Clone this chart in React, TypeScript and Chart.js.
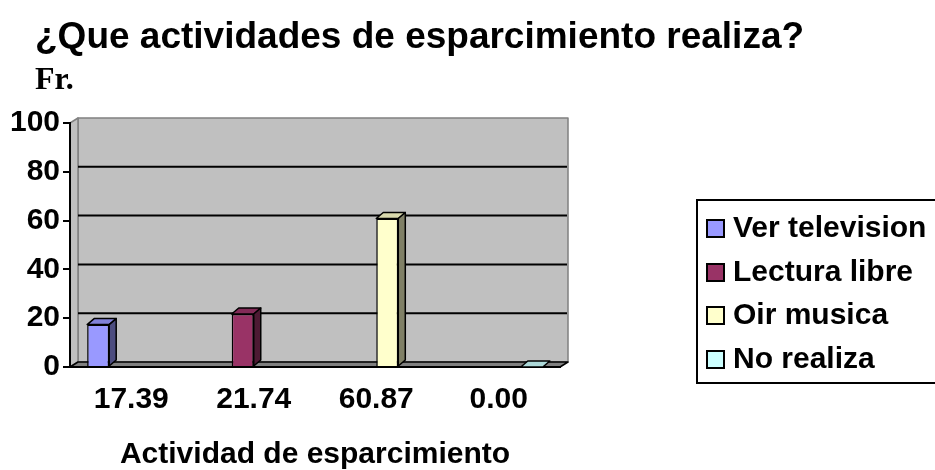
import React, { useEffect, useRef } from "react";
import { Chart, registerables } from "chart.js";

Chart.register(...registerables);

const categories = ["17.39", "21.74", "60.87", "0.00"];
const seriesNames = ["Ver television", "Lectura libre", "Oir musica", "No realiza"];
const seriesValues = [17.39, 21.74, 60.87, 0];
const seriesColors = ["#9999FF", "#993366", "#FFFFCC", "#CCFFFF"];
const yTicks = [0, 20, 40, 60, 80, 100];
const chartTitle = "¿Que actividades de esparcimiento realiza?";
const yLabel = "Fr.";
const xLabel = "Actividad de esparcimiento";

const SANS = '"Liberation Sans", Arial, sans-serif';
const SERIF = '"Liberation Serif", "Times New Roman", serif';

const DX = 8;
const DY = -5;
const BDX = 7;
const BDY = -6;

function shade(hex: string, f: number): string {
  const n = parseInt(hex.slice(1), 16);
  const r = Math.round(((n >> 16) & 255) * f);
  const g = Math.round(((n >> 8) & 255) * f);
  const b = Math.round((n & 255) * f);
  return `rgb(${r},${g},${b})`;
}

function poly(ctx: CanvasRenderingContext2D, pts: number[][], fill?: string, stroke?: string, lw = 1.5) {
  ctx.beginPath();
  ctx.moveTo(pts[0][0], pts[0][1]);
  for (let i = 1; i < pts.length; i++) ctx.lineTo(pts[i][0], pts[i][1]);
  ctx.closePath();
  if (fill) {
    ctx.fillStyle = fill;
    ctx.fill();
  }
  if (stroke) {
    ctx.strokeStyle = stroke;
    ctx.lineWidth = lw;
    ctx.lineJoin = "round";
    ctx.stroke();
  }
}

const wallsPlugin = {
  id: "walls3d",
  beforeDraw(chart: any) {
    const { ctx, chartArea: a, scales } = chart;
    const ys = scales.y;
    ctx.save();
    ctx.fillStyle = "#ffffff";
    ctx.fillRect(0, 0, chart.width, chart.height);
    // back wall
    poly(ctx, [
      [a.left + DX, a.top + DY],
      [a.right + DX, a.top + DY],
      [a.right + DX, a.bottom + DY],
      [a.left + DX, a.bottom + DY],
    ], "#C0C0C0", "#808080", 1.5);
    // left side wall
    poly(ctx, [
      [a.left, a.top],
      [a.left + DX, a.top + DY],
      [a.left + DX, a.bottom + DY],
      [a.left, a.bottom],
    ], "#C0C0C0", "#808080", 1.5);
    // floor
    poly(ctx, [
      [a.left, a.bottom],
      [a.left + DX, a.bottom + DY],
      [a.right + DX, a.bottom + DY],
      [a.right, a.bottom],
    ], "#808080", "#000000", 1.5);
    // gridlines on back wall
    ctx.strokeStyle = "#000000";
    ctx.lineWidth = 2;
    yTicks.forEach((v) => {
      if (v === 0 || v === 100) return;
      const py = ys.getPixelForValue(v) + DY;
      ctx.beginPath();
      ctx.moveTo(a.left + DX, py);
      ctx.lineTo(a.right + DX - 1, py);
      ctx.stroke();
    });
    ctx.restore();
  },
};

const bars3dPlugin = {
  id: "bars3d",
  afterDatasetsDraw(chart: any) {
    const { ctx } = chart;
    ctx.save();
    chart.data.datasets.forEach((ds: any, di: number) => {
      const meta = chart.getDatasetMeta(di);
      const col = seriesColors[di];
      meta.data.forEach((el: any, i: number) => {
        const v = ds.data[i];
        if (v == null) return;
        const { x, y, base, width } = el.getProps(["x", "y", "base", "width"], true);
        const l = x - width / 2;
        const r = x + width / 2;
        poly(ctx, [
          [l, y],
          [l + BDX, y + BDY],
          [r + BDX, y + BDY],
          [r, y],
        ], shade(col, 0.85), "#000000", 1.5);
        if (base - y > 0.5) {
          poly(ctx, [
            [r, y],
            [r + BDX, y + BDY],
            [r + BDX, base + BDY],
            [r, base],
          ], shade(col, 0.5), "#000000", 1.5);
        }
      });
    });
    ctx.restore();
  },
};

const textPlugin = {
  id: "texts",
  afterDraw(chart: any) {
    const { ctx } = chart;
    ctx.save();
    ctx.fillStyle = "#000000";
    ctx.textBaseline = "middle";
    ctx.textAlign = "left";
    ctx.font = `bold 37px ${SANS}`;
    ctx.fillText(chartTitle, 35, 38);
    ctx.font = `bold 32px ${SERIF}`;
    ctx.fillText(yLabel, 35, 81);

    // legend
    const lx = 697;
    const ly = 200;
    const lw = 260;
    const lh = 183;
    ctx.fillStyle = "#ffffff";
    ctx.fillRect(lx, ly, lw, lh);
    ctx.strokeStyle = "#000000";
    ctx.lineWidth = 2;
    ctx.strokeRect(lx, ly, lw, lh);
    const rows = [228, 272, 315, 359];
    ctx.font = `bold 30px ${SANS}`;
    chart.data.datasets.forEach((ds: any, i: number) => {
      const cy = rows[i];
      ctx.fillStyle = seriesColors[i];
      ctx.fillRect(707, cy - 8, 17, 17);
      ctx.lineWidth = 2;
      ctx.strokeStyle = "#000000";
      ctx.strokeRect(707, cy - 8, 17, 17);
      ctx.fillStyle = "#000000";
      ctx.fillText(ds.label, 733, cy + 1);
    });
    ctx.restore();
  },
};

export default function App() {
  const ref = useRef<HTMLCanvasElement | null>(null);

  useEffect(() => {
    if (!ref.current) return;
    const datasets = seriesNames.map((name, i) => ({
      label: name,
      data: categories.map((_, j) => (j === i ? seriesValues[i] : null)),
      backgroundColor: seriesColors[i],
      borderColor: "#000000",
      borderWidth: 1.5,
      categoryPercentage: 0.72,
      barPercentage: 1.0,
    }));
    const chart = new Chart(ref.current, {
      type: "bar",
      data: { labels: categories, datasets },
      plugins: [wallsPlugin, bars3dPlugin, textPlugin],
      options: {
        animation: false,
        responsive: false,
        devicePixelRatio: 1,
        layout: { padding: { top: 123, right: 375, left: 0, bottom: 0 } },
        plugins: {
          legend: { display: false },
          title: { display: false },
          tooltip: { enabled: false },
        },
        scales: {
          x: {
            afterFit: (s: any) => {
              s.height = 103;
            },
            grid: { display: false, drawTicks: false },
            border: { display: true, color: "#000000", width: 2 },
            ticks: {
              color: "#000000",
              padding: 15,
              font: { family: SANS, size: 30, weight: "bold" },
              maxRotation: 0,
            },
            title: {
              display: true,
              text: xLabel,
              color: "#000000",
              font: { family: SANS, size: 30, weight: "bold", lineHeight: 1 },
              padding: { top: 0, bottom: 0 },
            },
          },
          y: {
            min: 0,
            max: 100,
            afterFit: (s: any) => {
              s.width = 70;
            },
            afterBuildTicks: (s: any) => {
              s.ticks = yTicks.map((v) => ({ value: v }));
            },
            grid: {
              display: true,
              drawOnChartArea: false,
              drawTicks: true,
              tickLength: 7,
              color: "#000000",
              lineWidth: 2,
            },
            border: { display: true, color: "#000000", width: 2 },
            ticks: {
              color: "#000000",
              padding: 3,
              font: { family: SANS, size: 30, weight: "bold" },
            },
          },
        },
      },
    });
    return () => chart.destroy();
  }, []);

  return (
    <div style={{ position: "absolute", left: 0, top: 0, width: 935, height: 470, background: "#fff" }}>
      <canvas ref={ref} width={935} height={470} style={{ display: "block", width: 935, height: 470 }} />
    </div>
  );
}
